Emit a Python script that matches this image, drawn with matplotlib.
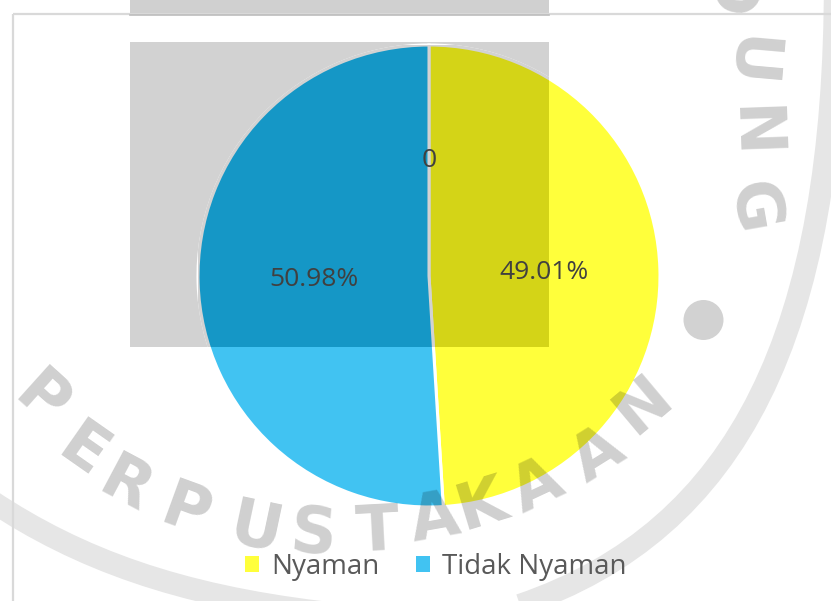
import matplotlib
matplotlib.use("Agg")
import matplotlib.pyplot as plt
from matplotlib.patches import Rectangle, Circle, Patch, PathPatch, Polygon
from matplotlib.path import Path
import numpy as np

# ---------------- data ----------------
categories = ["Nyaman", "Tidak Nyaman"]
values = [49.01, 50.98]
value_labels = ["49.01%", "50.98%"]
zero_label = "0"

colors = ["#FFFF3B", "#41C3F2"]
colors_shaded = ["#D4D417", "#1597C6"]

W, H = 831, 601
fig = plt.figure(figsize=(W / 100, H / 100), dpi=100)
fig.patch.set_facecolor("white")

# ---------------- background layer (pixel coordinates) ----------------
ax_bg = fig.add_axes([0, 0, 1, 1], zorder=0)
ax_bg.set_xlim(0, W)
ax_bg.set_ylim(H, 0)
ax_bg.axis("off")

# chart frame
ax_bg.plot([13, W + 5], [14, 14], color="#D9D9D9", lw=1.6, solid_capstyle="butt")
ax_bg.plot([13, 13], [14, H + 5], color="#D9D9D9", lw=1.6, solid_capstyle="butt")

# watermark rectangles
ax_bg.add_patch(Rectangle((130, -5), 419, 20, facecolor="#D0D0D0", edgecolor="none"))
ax_bg.plot([130, 549], [14.5, 14.5], color="#BDBDBD", lw=1.2)
rect_xy = [(130, 42), (549, 42), (549, 347), (130, 347)]
ax_bg.add_patch(Polygon(rect_xy, closed=True, facecolor="#D2D2D2", edgecolor="none"))

# watermark ring arcs
ring_r = Path([(835, -20), (835, 330), (740, 530), (520, 605)],
              [Path.MOVETO, Path.CURVE4, Path.CURVE4, Path.CURVE4])
ring_l = Path([(-10, 500), (80, 560), (180, 595), (320, 612)],
              [Path.MOVETO, Path.CURVE4, Path.CURVE4, Path.CURVE4])
for p in (ring_r, ring_l):
    ax_bg.add_patch(PathPatch(p, facecolor="none", edgecolor="#E6E6E6", lw=16))

# watermark dot
ax_bg.add_patch(Circle((703.5, 320), 20, facecolor="#D2D2D2", edgecolor="none"))

# ---------------- pie ----------------
cx, cy, R = 429, 276, 231
ax = fig.add_axes([(cx - R) / W, (H - cy - R) / H, 2 * R / W, 2 * R / H], zorder=1)
ax.patch.set_alpha(0)
wedges, _ = ax.pie(values, colors=colors, startangle=90, counterclock=False, radius=1,
                   wedgeprops=dict(edgecolor="white", linewidth=2.2))
wedges_s, _ = ax.pie(values, colors=colors_shaded, startangle=90, counterclock=False, radius=1,
                     wedgeprops=dict(edgecolor="#D2D2D2", linewidth=2.2))
clip = Polygon(rect_xy, closed=True, transform=ax_bg.transData)
for w in wedges_s:
    w.set_clip_on(True)
    w.set_clip_path(clip)
ax.set_xlim(-1, 1)
ax.set_ylim(-1, 1)
ax.axis("off")

lab_font = dict(family=["Open Sans", "DejaVu Sans"], fontsize=19, color="#404040")
for w, lab in zip(wedges, value_labels):
    ang = np.deg2rad((w.theta1 + w.theta2) / 2)
    ax.text(0.5 * np.cos(ang), 0.5 * np.sin(ang), lab, ha="center", va="center", **lab_font)
ang0 = np.deg2rad(wedges[0].theta2)
ax.text(0.5 * np.cos(ang0), 0.5 * np.sin(ang0), zero_label, ha="center", va="center", **lab_font)

# ---------------- watermark letters ----------------
ax_wm = fig.add_axes([0, 0, 1, 1], zorder=2)
ax_wm.set_xlim(0, W)
ax_wm.set_ylim(H, 0)
ax_wm.axis("off")
ax_wm.patch.set_alpha(0)

wm_letters = [
    ("P", 41, 400, -42), ("E", 82, 452, -35), ("R", 125, 486, -28), ("P", 185, 512, -20),
    ("U", 255, 530, -12), ("S", 313, 535, -5), ("T", 378, 532, 3), ("A", 435, 520, 10),
    ("K", 482, 506, 17), ("A", 538, 488, 25), ("A", 598, 456, 32), ("N", 643, 405, 40),
    ("D", 725, -8, -100), ("U", 748, 61, -95), ("N", 752, 132, -88), ("G", 752, 208, -80),
]
for ch, x, y, rot in wm_letters:
    ax_wm.text(x, y, ch, ha="center", va="center", rotation=rot, rotation_mode="anchor",
               fontsize=46, fontweight="bold", family="DejaVu Sans", color="black", alpha=0.19)

# ---------------- legend ----------------
handles = [Patch(facecolor=c, edgecolor="none") for c in colors]
leg = fig.legend(handles, categories, loc="center", bbox_to_anchor=(436 / W, 1 - 567 / H),
                 ncol=2, frameon=False, handlelength=0.5, handleheight=0.5,
                 handletextpad=0.45, columnspacing=1.3,
                 prop=dict(family=["Open Sans", "DejaVu Sans"], size=20))
for t in leg.get_texts():
    t.set_color("#595959")
leg.set_zorder(5)

fig.savefig("out.png", dpi=100, facecolor="white")
